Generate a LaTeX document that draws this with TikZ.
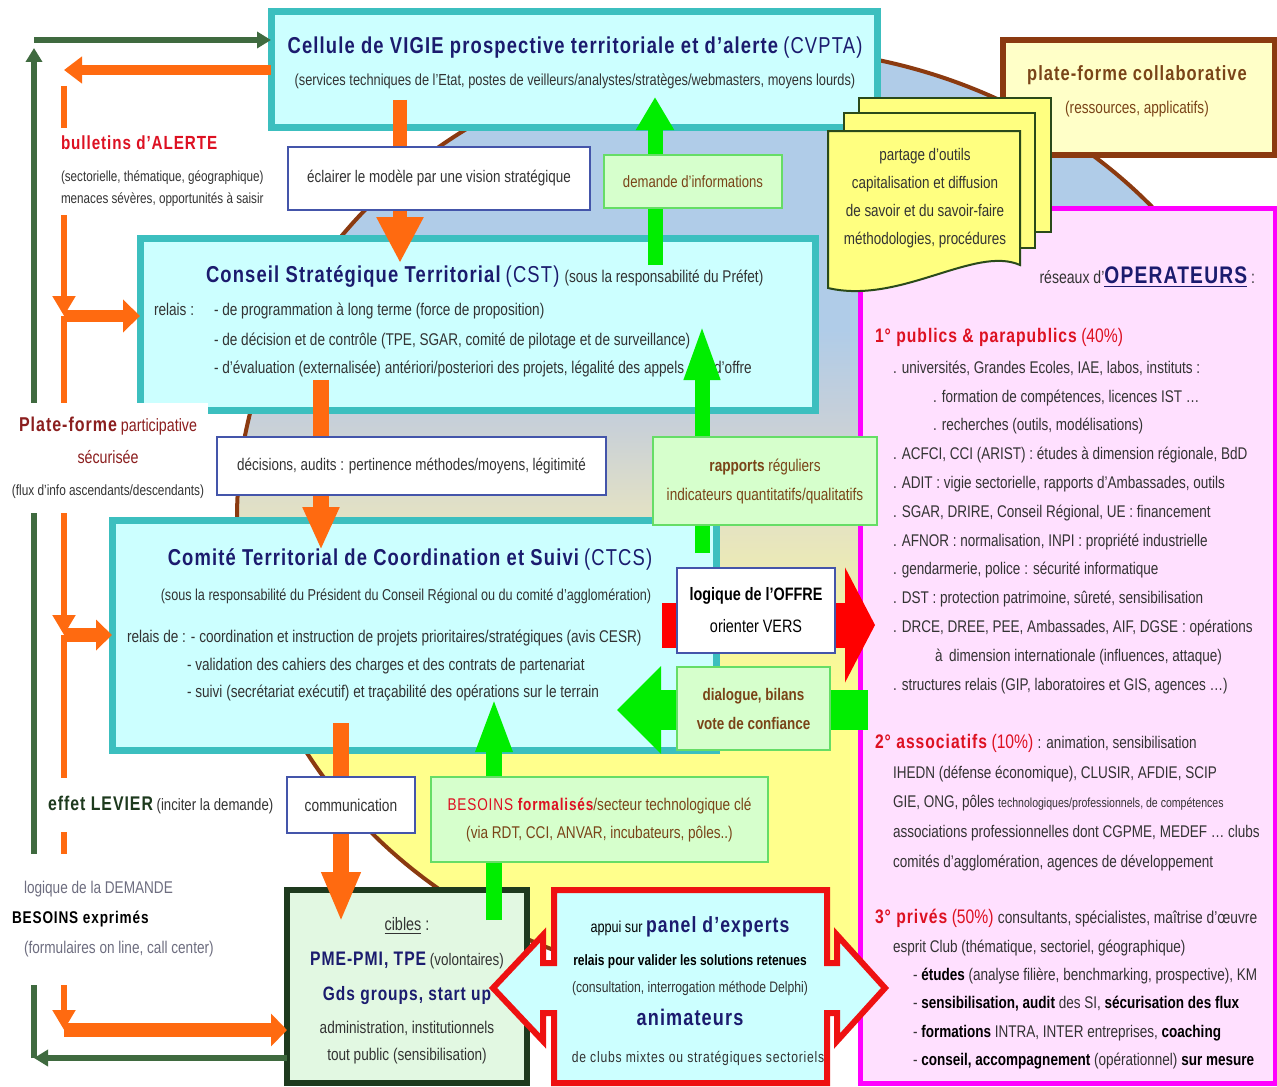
\documentclass[tikz,border=0pt]{standalone}
\usepackage{fontspec}
\setmainfont{Liberation Sans}[FakeStretch=0.8]
\newfontfamily\wideface{Liberation Sans}[FakeStretch=0.8,LetterSpace=5]
\usetikzlibrary{arrows.meta,calc}

\newcommand{\fsz}[1]{\fontsize{#1}{#1}\selectfont}

\definecolor{navy}{HTML}{1B1B6E}
\definecolor{ink}{HTML}{333333}
\definecolor{greyink}{HTML}{6E6E80}
\definecolor{redink}{HTML}{DD1122}
\definecolor{darkredink}{HTML}{8B1E1E}
\definecolor{brownink}{HTML}{7A4418}
\definecolor{vigieteal}{HTML}{3CBFBF}
\definecolor{cyanfill}{HTML}{CCFFFF}
\definecolor{pinkfill}{HTML}{FFE0FF}
\definecolor{pinkline}{HTML}{FF00FF}
\definecolor{pfline}{HTML}{8B3A10}
\definecolor{pffill}{HTML}{FFFFC8}
\definecolor{docfill}{HTML}{FFFF80}
\definecolor{docline}{HTML}{2A4A1A}
\definecolor{notegreen}{HTML}{66DD66}
\definecolor{greenfill}{HTML}{D6FFCC}
\definecolor{noteblue}{HTML}{4455AA}
\definecolor{arrorange}{HTML}{FF6A10}
\definecolor{arrgreen}{HTML}{00EE00}
\definecolor{arrred}{HTML}{FF0000}
\definecolor{leftgreen}{HTML}{3F6A3F}
\definecolor{ciblefill}{HTML}{E2F8E2}
\definecolor{cibleline}{HTML}{1E3A1E}
\definecolor{expertline}{HTML}{EE1111}
\definecolor{bgyellow}{HTML}{FFFF8C}
\definecolor{bgbeige}{HTML}{E4E2C4}
\definecolor{bggrey}{HTML}{C8D0D8}
\definecolor{bgblue}{HTML}{B0CCE8}

\pgfdeclareverticalshading{vigieshade}{100bp}{color(0bp)=(bgyellow); color(40bp)=(bgyellow); color(50bp)=(bgbeige); color(55bp)=(bggrey); color(60bp)=(bgblue); color(100bp)=(bgblue)}

\begin{document}
\begin{tikzpicture}[x=0.5pt, y=-0.5pt]
\tikzset{ >=Triangle, inner sep=0pt, outer sep=0pt,
  vbox/.style={draw=vigieteal, line width=3.5pt, fill=cyanfill},
  notebox/.style={draw=noteblue, line width=0.7pt, fill=white, text=ink},
  greenbox/.style={draw=notegreen, line width=1.2pt, fill=greenfill, text=brownink},
  page/.style={draw=docline, line width=1pt, fill=docfill},
  txt/.style={anchor=mid, text=ink},
  ltxt/.style={anchor=mid west, text=ink},
  cover/.style={fill=white, inner xsep=2pt},
  oline/.style={draw=arrorange, line width=3pt, -{Triangle[width=11pt,length=10pt]}},
  gline/.style={draw=leftgreen, line width=3pt, -{Triangle[width=8pt,length=7pt]}},
}

\fill [white] (0,0) rectangle (1277,1086);
\useasboundingbox (0,0) rectangle (1277,1086);

% vigie zone
\shadedraw [draw=pfline, line width=2pt, shading=vigieshade] (760,518) ellipse [x radius=261.5pt, y radius=235pt];

% operateurs and plate-forme collaborative
\node [draw=pinkline, line width=2.5pt, fill=pinkfill, minimum width=207.5pt, minimum height=437.5pt] (oper) at (1067.5,645.5) {};
\node [draw=pfline, line width=3pt, fill=pffill, minimum width=136pt, minimum height=57.5pt] (pfc) at (1139,97.5) {};

% the three levels
\node [vbox, minimum width=303pt, minimum height=57.5pt] (cvpta) at (574,69.5) {};
\node [vbox, minimum width=337.5pt, minimum height=86pt] (cst) at (477.5,324) {};
\node [vbox, minimum width=302pt, minimum height=115pt] (ctcs) at (414,635) {};
\node [draw=cibleline, line width=3pt, fill=ciblefill, minimum width=120pt, minimum height=96.5pt] (cibles) at (407,986.5) {};
\draw [draw=expertline, line width=3pt, fill=cyanfill] (554,890) -- (827,890) -- (827,963) -- (837,963) -- (837,935) -- (885,988) -- (837,1041) -- (837,1013) -- (827,1013) -- (827,1083) -- (554,1083) -- (554,1013) -- (543,1013) -- (543,1041) -- (493,988) -- (543,935) -- (543,963) -- (554,963) -- cycle;

% pages
\filldraw [page] (859,98) rectangle (1051,232);
\filldraw [page] (844,113) rectangle (1035,248);
\filldraw [page] (828,131) -- (1020,131) -- (1020,265) .. controls (975,245) and (900,305) .. (828,288) -- cycle;
\node [text=ink, align=center, font=\fontsize{8.4pt}{14pt}\selectfont] (pagesT) at (925,198) {partage d’outils\\capitalisation et diffusion\\de savoir et du savoir-faire\\méthodologies, procédures};

\node [txt, text=brownink, font=\fsz{10.3pt}] (pfcT) at (1137,75) {\wideface\bfseries plate-forme collaborative};
\node [txt, text=brownink, font=\fsz{8.5pt}] (pfcS) at (1137,108) {(ressources, applicatifs)};

% box texts
\node [txt, text=navy, font=\fsz{11.5pt}] (cvptaT) at (575,48) {{\wideface\bfseries Cellule de VIGIE prospective territoriale et d’alerte} {\wideface(CVPTA)}};
\node [txt, font=\fsz{8pt}] (cvptaS) at (575,80) {(services techniques de l’Etat, postes de veilleurs/analystes/stratèges/webmasters, moyens lourds)};

\node [ltxt, text=navy, font=\fsz{11.5pt}] (cstT) at (206,277) {{\wideface\bfseries Conseil Stratégique Territorial} {\wideface(CST)} {\fsz{8.5pt}\color{ink}(sous la responsabilité du Préfet)}};
\node [ltxt, font=\fsz{8.5pt}] (cstR) at (154,310) {relais :};
\node [ltxt, font=\fsz{8.5pt}] (cstA) at (214,310) {- de programmation à long terme (force de proposition)};
\node [ltxt, font=\fsz{8.5pt}] (cstB) at (214,340) {- de décision et de contrôle (TPE, SGAR, comité de pilotage et de surveillance)};
\node [ltxt, font=\fsz{8.5pt}] (cstC) at (214,368) {- d’évaluation (externalisée) antériori/posteriori des projets, légalité des appels\hspace{15pt}d’offre};

\node [txt, text=navy, font=\fsz{11.5pt}] (ctcsT) at (410,560) {{\wideface\bfseries Comité Territorial de Coordination et Suivi} {\wideface(CTCS)}};
\node [txt, font=\fsz{7.9pt}] (ctcsS) at (406,595) {(sous la responsabilité du Président du Conseil Régional ou du comité d’agglomération)};
\node [ltxt, font=\fsz{8.5pt}] (ctcsA) at (127,637) {relais de : - coordination et instruction de projets prioritaires/stratégiques (avis CESR)};
\node [ltxt, font=\fsz{8.5pt}] (ctcsB) at (187,665) {- validation des cahiers des charges et des contrats de partenariat};
\node [ltxt, font=\fsz{8.5pt}] (ctcsC) at (187,692) {- suivi (secrétariat exécutif) et traçabilité des opérations sur le terrain};

\node [txt, font=\fsz{9pt}] (ciblesA) at (407,925) {\underline{cibles} :};
\node [txt, font=\fsz{8.4pt}] (ciblesB) at (407,960) {{\wideface\bfseries\color{navy}\fsz{9.8pt}PME-PMI, TPE} (volontaires)};
\node [txt, text=navy, font=\fsz{9.7pt}] (ciblesC) at (407,995) {\wideface\bfseries Gds groups, start up};
\node [txt, font=\fsz{8.5pt}] (ciblesD) at (407,1028) {administration, institutionnels};
\node [txt, font=\fsz{8.5pt}] (ciblesE) at (407,1055) {tout public (sensibilisation)};

\node [txt, text=black, font=\fsz{7.9pt}] (expA) at (690,927) {appui sur {\wideface\bfseries\color{navy}\fsz{11pt}panel d’experts}};
\node [txt, text=black, font=\fsz{7.5pt}] (expB) at (690,960) {\bfseries relais pour valider les solutions retenues};
\node [txt, font=\fsz{7.6pt}] (expC) at (690,987) {(consultation, interrogation méthode Delphi)};
\node [txt, text=navy, font=\fsz{11.3pt}] (expD) at (690,1020) {\wideface\bfseries animateurs};
\node [txt, font=\fsz{7.6pt}] (expE) at (698,1057) {\wideface de clubs mixtes ou stratégiques sectoriels};

% operateurs
\node [anchor=mid east, text=ink, font=\fsz{8.8pt}] (operT) at (1255,278) {réseaux d’{\wideface\bfseries\color{navy}\fsz{12pt}\underline{OPERATEURS}} :};
\node [ltxt, text=redink, font=\fsz{9.8pt}] (pubT) at (875,337) {{\wideface\bfseries 1° publics \& parapublics} (40\%)};
\foreach \t [count=\i from 0] in {
  {. universités, Grandes Ecoles, IAE, labos, instituts :},
  {\hspace*{20pt}. formation de compétences, licences IST \ldots},
  {\hspace*{20pt}. recherches (outils, modélisations)},
  {. ACFCI, CCI (ARIST) : études à dimension régionale, BdD},
  {. ADIT : vigie sectorielle, rapports d’Ambassades, outils},
  {. SGAR, DRIRE, Conseil Régional, UE : financement},
  {. AFNOR : normalisation, INPI : propriété industrielle},
  {. gendarmerie, police : sécurité informatique},
  {. DST : protection patrimoine, sûreté, sensibilisation},
  {. DRCE, DREE, PEE, Ambassades, AIF, DGSE : opérations},
  {\hspace*{21pt}à\, dimension internationale (influences, attaque)},
  {. structures relais (GIP, laboratoires et GIS, agences \ldots)}}
  \node [ltxt, font=\fsz{8.45pt}] (pub\i) at (893,368+28.8*\i) {\t};

\node [ltxt, text=redink, font=\fsz{9.8pt}] (assT) at (875,743) {{\wideface\bfseries 2° associatifs} (10\%) {\fsz{8.45pt}\color{ink}: animation, sensibilisation}};
\foreach \t [count=\i from 0] in {
  {IHEDN (défense économique), CLUSIR, AFDIE, SCIP},
  {GIE, ONG, pôles {\fsz{6.6pt}technologiques/professionnels, de compétences}},
  {associations professionnelles dont CGPME, MEDEF \ldots\ clubs},
  {comités d’agglomération, agences de développement}}
  \node [ltxt, font=\fsz{8.45pt}] (ass\i) at (893,773+29.7*\i) {\t};

\node [ltxt, text=redink, font=\fsz{9.8pt}] (privT) at (875,918) {{\wideface\bfseries 3° privés} (50\%) {\fsz{8.6pt}\color{ink}consultants, spécialistes, maîtrise d’œuvre}};
\node [ltxt, font=\fsz{8.45pt}] (privA) at (893,947) {esprit Club (thématique, sectoriel, géographique)};
\foreach \t [count=\i from 0] in {
  {- {\color{black}\bfseries études} (analyse filière, benchmarking, prospective), KM},
  {- {\color{black}\bfseries sensibilisation, audit} des SI, {\color{black}\bfseries sécurisation des flux}},
  {- {\color{black}\bfseries formations} INTRA, INTER entreprises, {\color{black}\bfseries coaching}},
  {- {\color{black}\bfseries conseil, accompagnement} (opérationnel) {\color{black}\bfseries sur mesure}}}
  \node [ltxt, font=\fsz{8.45pt}] (priv\i) at (913,975+28.5*\i) {\t};

% left loops
\coordinate (otop) at (64,70);
\coordinate (ov0) at (64,86);
\coordinate (ov1) at (64,316);
\coordinate (ov2) at (64,635);
\coordinate (ov3) at (64,1030);
\coordinate (gb) at (34,1058);
\coordinate (gt) at (34,40);

\draw [arrorange, line width=5pt, -{Triangle[width=13pt,length=9pt]}] (cvpta.west |- otop) -- (otop);
\draw [oline] (ov0) -- (ov1);
\draw [oline] (ov1) -- (ov2);
\draw [oline] (ov2) -- (ov3);
\draw [arrorange, line width=6pt, -{Triangle[width=16pt,length=8.5pt]}] (ov1) -- (cst.west |- ov1);
\draw [arrorange, line width=7pt, -{Triangle[width=15pt,length=8pt]}] (ov2) -- (ctcs.west |- ov2);
\draw [arrorange, line width=7pt, -{Triangle[width=16pt,length=8pt]}] (ov3) -- (cibles.west |- ov3);

\draw [gline] (cibles.west |- gb) -- (gb);
\draw [gline] (gb) -- ($(gt)+(0,8)$);
\draw [gline] (gt) -- (cvpta.west |- gt);

\node [cover, anchor=north west, align=left, text=ink, font=\fontsize{7.3pt}{11pt}\selectfont, inner ysep=4pt] (alerte) at (57,128) {{\wideface\bfseries\color{redink}\fsz{9.5pt}bulletins d’ALERTE}\\[5pt](sectorielle, thématique, géographique)\\menaces sévères, opportunités à saisir};
\node [cover, align=center, text=darkredink, font=\fontsize{8.9pt}{16pt}\selectfont, minimum height=55pt] (partic) at (108,458) {{\wideface\bfseries\fsz{10pt}Plate-forme} participative\\sécurisée\\{\color{ink}\fsz{7.4pt}(flux d’info ascendants/descendants)}};
\node [cover, anchor=mid west, text=ink, font=\fsz{8.25pt}, inner ysep=9pt] (levier) at (44,805) {{\wideface\bfseries\color{cibleline}\fsz{9.9pt}effet LEVIER} (inciter la demande)};
\node [cover, anchor=north west, align=left, text=greyink, font=\fontsize{8.5pt}{15pt}\selectfont, minimum height=65.5pt] (demandeL) at (8,854) {\hspace*{6pt}logique de la DEMANDE\\{\wideface\bfseries\color{black}\fsz{8.5pt}BESOINS exprimés}\\\hspace*{6pt}(formulaires on line, call center)};

% block arrows
\coordinate (xo1) at (400,0);
\coordinate (xo2) at (321,0);
\coordinate (xo3) at (341,0);
\coordinate (xg1) at (655,0);
\coordinate (xg2) at (702,0);
\coordinate (xg3) at (494,0);
\coordinate (yr) at (0,625);
\coordinate (yd) at (0,710);

\draw [arrorange, line width=7pt, -{Triangle[width=22pt,length=23pt]}] ($(cvpta.south -| xo1)+(0,-27)$) -- ($(cst.north -| xo1)+(0,25)$);
\draw [arrorange, line width=8pt, -{Triangle[width=17pt,length=21.5pt]}] ($(cst.south -| xo2)+(0,-30)$) -- ($(ctcs.north -| xo2)+(0,30)$);
\draw [arrorange, line width=8pt, -{Triangle[width=18pt,length=25pt]}] ($(ctcs.south -| xo3)+(0,-27)$) -- ($(cibles.north -| xo3)+(0,32)$);
\draw [arrgreen, line width=7.5pt, -{Triangle[width=18pt,length=16.5pt]}] ($(cst.north -| xg1)+(0,27)$) -- ($(cvpta.south -| xg1)+(0,-30)$);
\draw [arrgreen, line width=7.5pt, -{Triangle[width=16pt,length=28.5pt]}] ($(ctcs.north -| xg2)+(0,33)$) -- ($(cst.south -| xg2)+(0,-87)$);
\draw [arrgreen, line width=8pt, -{Triangle[width=16.5pt,length=27.5pt]}] ($(cibles.north -| xg3)+(0,30)$) -- ($(ctcs.south -| xg3)+(0,-53)$);
\draw [arrred, line width=22.5pt, -{Triangle[width=57pt,length=15pt]}] ($(ctcs.east |- yr)+(-54,0)$) -- ($(oper.west |- yr)+(15,0)$);
\draw [arrgreen, line width=20pt, -{Triangle[width=42.5pt,length=22pt]}] ($(oper.west |- yd)+(8,0)$) -- ($(ctcs.east |- yd)+(-99,0)$);

% notes on the flows
\node [notebox, font=\fsz{8.4pt}, minimum width=151pt, minimum height=31.5pt] (eclairer) at (439,178.5) {éclairer le modèle par une vision stratégique};
\node [greenbox, font=\fsz{8.2pt}, minimum width=89pt, minimum height=26.5pt] (demande) at (693,181.5) {demande d’informations};
\node [notebox, font=\fsz{8.4pt}, minimum width=194.5pt, minimum height=29pt] (decisions) at (411.5,466) {décisions, audits : pertinence méthodes/moyens, légitimité};
\node [greenbox, align=center, font=\fontsize{8.5pt}{14.5pt}\selectfont, minimum width=112pt, minimum height=44pt] (rapports) at (765,481) {{\bfseries rapports} réguliers\\indicateurs quantitatifs/qualitatifs};
\node [notebox, text=black, align=center, font=\fontsize{9pt}{16pt}\selectfont, minimum width=79pt, minimum height=42.5pt] (offre) at (756,610.5) {{\bfseries logique de l’OFFRE}\\orienter VERS};
\node [greenbox, align=center, font=\fontsize{8.4pt}{14.5pt}\selectfont\bfseries, minimum width=76.5pt, minimum height=41.5pt] (dialogue) at (753.5,708.5) {dialogue, bilans\\vote de confiance};
\node [notebox, font=\fsz{8.6pt}, minimum width=64pt, minimum height=28pt] (comm) at (351,805) {communication};
\node [greenbox, align=center, font=\fontsize{8.5pt}{14pt}\selectfont, minimum width=168.5pt, minimum height=42.5pt] (besoins) at (599.5,819.5) {{\color{redink}\wideface BESOINS \bfseries formalisés}/secteur technologique clé\\(via RDT, CCI, ANVAR, incubateurs, pôles..)};

\end{tikzpicture}
\end{document}
